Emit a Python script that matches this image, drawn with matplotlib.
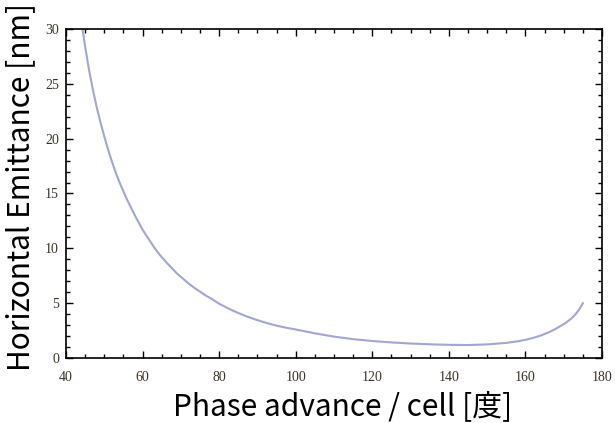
import matplotlib
matplotlib.use("Agg")
import matplotlib.pyplot as plt
from matplotlib.ticker import MultipleLocator

phase_deg = [44.3, 45, 46, 47, 48, 49, 50, 51, 52, 53, 54, 55, 56, 57, 58, 59,
             60, 61.5, 63, 64.5, 66, 67.5, 69, 70.5, 72, 73.5, 75, 76.5, 78, 80,
             82.5, 85, 87.5, 90, 92.5, 95, 97.5, 100, 105, 110, 115, 120, 125,
             130, 135, 140, 145, 150, 155, 158, 160, 162, 164, 166, 167.5,
             169, 170.5, 172, 173, 174, 175]
emittance_nm = [30.0, 28.4, 26.3, 24.5, 22.9, 21.5, 20.2, 19.0, 17.9, 16.9,
                16.0, 15.2, 14.4, 13.7, 13.0, 12.35, 11.7, 10.9, 10.1, 9.4,
                8.8, 8.25, 7.7, 7.25, 6.8, 6.4, 6.05, 5.7, 5.4, 4.95, 4.5, 4.1,
                3.75, 3.45, 3.18, 2.95, 2.76, 2.6, 2.25, 1.95, 1.72, 1.55, 1.42,
                1.32, 1.25, 1.2, 1.18, 1.24, 1.38, 1.52, 1.66, 1.83, 2.05, 2.33,
                2.58, 2.88, 3.2, 3.6, 3.95, 4.4, 5.0]

xlabel = "Phase advance / cell [度]"
ylabel = "Horizontal Emittance [nm]"

fig = plt.figure(figsize=(6.15, 4.23), dpi=100)
ax = fig.add_axes([66/615, 1-358/423, (602-66)/615, (358-29)/423])

ax.plot(phase_deg, emittance_nm, color="#a2a6d2", lw=1.5,
        solid_joinstyle="round")

ax.set_xlim(40, 180)
ax.set_ylim(0, 30)
ax.xaxis.set_major_locator(MultipleLocator(20))
ax.xaxis.set_minor_locator(MultipleLocator(5))
ax.yaxis.set_major_locator(MultipleLocator(5))
ax.yaxis.set_minor_locator(MultipleLocator(1))
ax.tick_params(which="both", direction="in", top=True, right=True, width=1.0,
               color="black")
ax.tick_params(which="major", length=5)
ax.tick_params(which="minor", length=3)
ax.tick_params(axis="x", which="major", pad=9)
ax.tick_params(axis="y", which="major", pad=5)
for s in ax.spines.values():
    s.set_linewidth(1.2)
for lab in ax.get_xticklabels() + ax.get_yticklabels():
    lab.set_fontfamily("Liberation Serif")
    lab.set_fontsize(10)
    lab.set_color("#3a3328")

cjk = ["Noto Sans CJK JP", "DejaVu Sans"]
fig.text(343/615, 6.5/423, xlabel, fontsize=21.5, family=cjk,
         ha="center", va="baseline")
fig.text(36/615, 1-187/423, ylabel, fontsize=21.5, family=cjk,
         rotation=90, ha="right", va="center")

fig.savefig("out.png", dpi=100)
